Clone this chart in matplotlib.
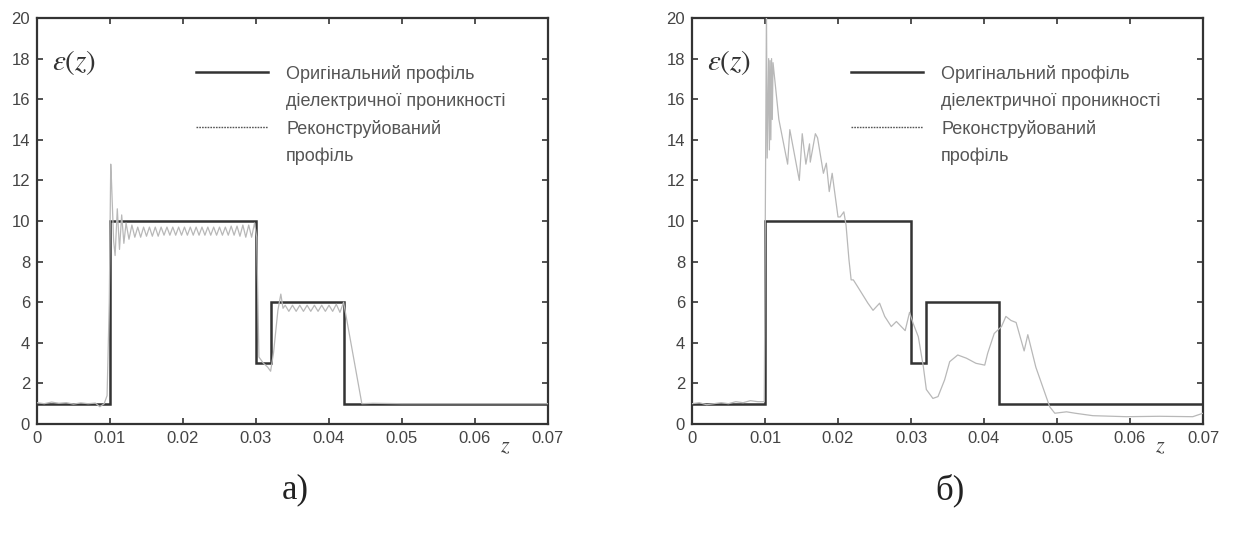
import numpy as np
import matplotlib
matplotlib.use("Agg")
import matplotlib.pyplot as plt
from matplotlib.lines import Line2D

plt.rcParams['font.family'] = ['Liberation Sans', 'DejaVu Sans']
plt.rcParams['mathtext.fontset'] = 'stix'

# ---------------- data ----------------
z_edges = [0.0, 0.01, 0.03, 0.032, 0.042, 0.07]
eps_levels = [1, 10, 3, 6, 1]

# panel a) reconstructed profile
za_left = [0.0, 0.001, 0.002, 0.003, 0.004, 0.005, 0.006, 0.007, 0.008, 0.0086, 0.0092,
           0.0096, 0.0099, 0.0101, 0.0102, 0.0105, 0.0107, 0.0110, 0.0113, 0.0116, 0.0119]
ea_left = [1.05, 1.0, 1.08, 1.02, 1.05, 0.98, 1.04, 1.0, 1.03, 0.85, 1.0,
           1.4, 6.0, 12.8, 12.0, 9.0, 8.3, 10.6, 8.6, 10.3, 8.9]
za_osc10 = [0.0122, 0.0126, 0.0130, 0.0134, 0.0138, 0.0142, 0.0146, 0.0150, 0.0154, 0.0158,
            0.0162, 0.0166, 0.0170, 0.0174, 0.0178, 0.0182, 0.0186, 0.0190, 0.0194, 0.0198,
            0.0202, 0.0206, 0.0210, 0.0214, 0.0218, 0.0222, 0.0226, 0.0230, 0.0234, 0.0238,
            0.0242, 0.0246, 0.0250, 0.0254, 0.0258, 0.0262, 0.0266, 0.0270, 0.0274, 0.0278,
            0.0282, 0.0286, 0.0290, 0.0294, 0.0298]
ea_osc10 = [9.9, 9.1, 9.8, 9.2, 9.7, 9.2, 9.7, 9.25, 9.7, 9.25,
            9.7, 9.25, 9.7, 9.3, 9.7, 9.3, 9.7, 9.3, 9.7, 9.3,
            9.7, 9.3, 9.7, 9.3, 9.7, 9.3, 9.7, 9.3, 9.7, 9.3,
            9.7, 9.3, 9.7, 9.3, 9.7, 9.3, 9.75, 9.3, 9.75, 9.25,
            9.8, 9.2, 9.8, 9.2, 9.9]
za_mid = [0.0301, 0.0304, 0.0310, 0.0316, 0.0320, 0.0324, 0.0330, 0.0334, 0.0337]
ea_mid = [9.2, 3.3, 3.0, 2.8, 2.6, 3.5, 5.6, 6.4, 5.7]
za_osc6 = [0.0340, 0.0345, 0.0350, 0.0355, 0.0360, 0.0365, 0.0370, 0.0375, 0.0380, 0.0385,
           0.0390, 0.0395, 0.0400, 0.0405, 0.0410, 0.0415]
ea_osc6 = [5.85, 5.55, 5.85, 5.55, 5.85, 5.55, 5.85, 5.55, 5.85, 5.55,
           5.85, 5.55, 5.85, 5.55, 5.9, 5.5]
za_right = [0.0420, 0.0445, 0.0460, 0.050, 0.055, 0.060, 0.065, 0.070]
ea_right = [6.0, 1.0, 1.02, 1.0, 1.0, 1.0, 1.0, 1.0]

# panel б) reconstructed profile
zb = [0.0, 0.001, 0.002, 0.003, 0.004, 0.005, 0.006, 0.007, 0.008, 0.009, 0.0099,
      0.0102, 0.0103, 0.0105, 0.0106, 0.0107, 0.0108, 0.0109, 0.0110, 0.0111,
      0.0119, 0.0131, 0.0134, 0.0147, 0.0151, 0.0156, 0.0161, 0.0162, 0.0169, 0.0172,
      0.0180, 0.0184, 0.0188, 0.0192, 0.0200, 0.0203, 0.0208, 0.0211, 0.0215, 0.0218,
      0.0221, 0.0227, 0.0241, 0.0248, 0.0257, 0.0264, 0.0273, 0.0280, 0.0292, 0.0298,
      0.0303, 0.0310, 0.0317, 0.0321, 0.0330, 0.0337, 0.0346, 0.0353, 0.0364, 0.0376,
      0.0389, 0.0401, 0.0405, 0.0414, 0.0424, 0.0430, 0.0437, 0.0444, 0.0455, 0.0460,
      0.0471, 0.0490, 0.0497, 0.0513, 0.0525, 0.0549, 0.0595, 0.0640, 0.0686, 0.0700]
eb = [1.0, 1.05, 0.95, 1.0, 1.05, 1.0, 1.1, 1.05, 1.15, 1.1, 1.1,
      20.5, 13.1, 18.0, 13.5, 17.9, 14.0, 18.0, 15.0, 17.8,
      15.0, 12.8, 14.5, 12.0, 14.3, 12.8, 13.8, 12.9, 14.3, 14.1,
      12.35, 12.85, 11.45, 12.35, 10.2, 10.2, 10.45, 9.8, 8.1, 7.1,
      7.1, 6.76, 5.95, 5.6, 5.95, 5.3, 4.8, 5.05, 4.6, 5.5,
      4.95, 4.3, 2.8, 1.7, 1.26, 1.35, 2.17, 3.07, 3.4, 3.24,
      2.99, 2.9, 3.48, 4.46, 4.8, 5.3, 5.1, 5.0, 3.6, 4.4,
      2.8, 0.85, 0.53, 0.6, 0.53, 0.41, 0.36, 0.38, 0.36, 0.53]

x_ticks = [0, 0.01, 0.02, 0.03, 0.04, 0.05, 0.06, 0.07]
x_ticklabels = ['0', '0.01', '0.02', '0.03', '0.04', '0.05', '0.06', '0.07']
y_ticks = [0, 2, 4, 6, 8, 10, 12, 14, 16, 18, 20]
legend_labels = ['Оригінальний профіль', 'діелектричної проникності',
                 'Реконструйований', 'профіль']
captions = ['а)', 'б)']

za = za_left + za_osc10 + za_mid + za_osc6 + za_right
ea = ea_left + ea_osc10 + ea_mid + ea_osc6 + ea_right

# ---------------- figure ----------------
fig = plt.figure(figsize=(12.35, 5.35), dpi=100)
W, H = 1235, 535
axes_px = [(37, 18, 511, 406), (692, 18, 511, 406)]

dark = '#333333'
gray_line = '#b8b8b8'
text_col = '#555555'

for i, (zr, er) in enumerate([(za, ea), (zb, eb)]):
    x0, y0, w, h = axes_px[i]
    ax = fig.add_axes([x0 / W, 1 - (y0 + h) / H, w / W, h / H])
    ax.stairs(eps_levels, z_edges, baseline=None, color=dark, lw=1.8, zorder=2)
    ax.plot(zr, er, color=gray_line, lw=0.9, zorder=3)
    ax.set_xlim(0, 0.07)
    ax.set_ylim(0, 20)
    ax.set_xticks(x_ticks)
    ax.set_xticklabels(x_ticklabels)
    ax.set_yticks(y_ticks)
    ax.tick_params(direction='in', top=True, right=True, length=4, width=1.2,
                   colors=dark, labelcolor='#444444', labelsize=12, pad=5)
    for s in ax.spines.values():
        s.set_color(dark)
        s.set_linewidth(1.6)

    ax.text(0.03, 0.89, r'$\varepsilon(z)$', transform=ax.transAxes,
            fontsize=21, color='#333333', ha='left', va='center')
    ax.text(0.916, -0.057, r'$z$', transform=ax.transAxes,
            fontsize=16, color='#444444', ha='center', va='center')

    handles = [Line2D([], [], color=dark, lw=1.8),
               Line2D([], [], color='none'),
               Line2D([], [], color='#555555', lw=1.0, ls=(0, (1.2, 0.8))),
               Line2D([], [], color='none')]
    leg = ax.legend(handles, legend_labels, loc='upper left',
                    bbox_to_anchor=(0.311, 0.885), frameon=False,
                    fontsize=13, handlelength=4.0, handletextpad=1.0,
                    labelspacing=0.55, borderpad=0, borderaxespad=0)
    for t in leg.get_texts():
        t.set_color(text_col)

    fig.text((x0 + 0.505 * w) / W, 0.084, captions[i], ha='center', va='center',
             fontsize=25, family='Liberation Serif', color='#222222')

fig.savefig('out.png', dpi=100, facecolor='white')
